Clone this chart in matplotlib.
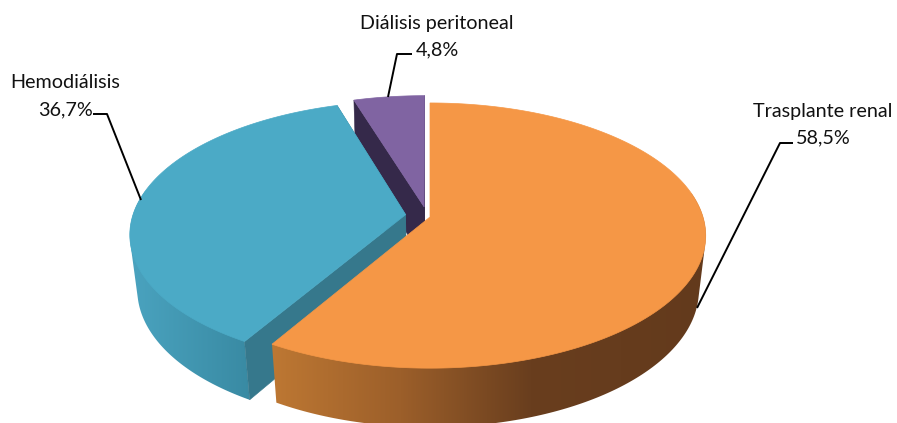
import matplotlib
matplotlib.use("Agg")
import matplotlib.pyplot as plt
import numpy as np
from matplotlib.patches import Polygon

categories = ["Trasplante renal", "Hemodiálisis", "Diálisis peritoneal"]
values = [58.5, 36.7, 4.8]
explode = [0.0, 0.09, 0.095]

top_colors = ["#F59746", "#4BAAC6", "#8064A2"]
wall_colors = [None, "#36788C", "#35294A"]

# side gradient, picked by screen x
side_stops = [
    [(270, "#BE7833"), (400, "#9C5F2A"), (530, "#693E1E"), (710, "#633A1C")],
    [(130, "#4AA3BF"), (250, "#398AA3")],
    None,
]

# small screen shift of a slice, in pixels
nudge = [(0, 0), (0, -1), (-2, 2)]

# label text position (center x, name y, value y) and leader line
label_pos = [(823, 112, 138), (65, 83, 110), (437, 23, 50)]
leaders = [
    [(793, 143), (780, 143), (697, 308)],
    [(93, 114), (107, 114), (141, 200)],
    [(412, 54), (397, 54), (388, 97)],
]

# perspective of the pie, in pixels
X0, Y0 = 430, 217
RX, RY = 273, 130
TILT = 0.14
DROP = 56
SHRINK = 0.025


def project(x, y, z=0.0):
    d = 1 + TILT * y + SHRINK * z
    return X0 + RX * x / d, Y0 + (-RY * y + DROP * z) / d


# the wall outline has to fill the gap at the silhouette, so take the hull
def convex_hull(points):
    points = sorted(set(points))

    def half(seq):
        out = []
        for p in seq:
            while len(out) > 1 and ((out[-1][0] - out[-2][0]) * (p[1] - out[-2][1])
                                    - (out[-1][1] - out[-2][1]) * (p[0] - out[-2][0])) <= 0:
                out.pop()
            out.append(p)
        return out[:-1]

    return half(points) + half(points[::-1])


fig = plt.figure(figsize=(8.97, 4.23), dpi=100)
ax = fig.add_axes([0, 0, 1, 1])

edges = np.cumsum([0] + values) / 100 * 2 * np.pi
starts, ends = edges[:-1], edges[1:]


def draw_slice(i, zorder):
    a0, a1 = starts[i], ends[i]
    mid = (a0 + a1) / 2
    ox, oy = explode[i] * np.sin(mid), explode[i] * np.cos(mid)
    t = np.linspace(a0, a1, 240)
    xs, ys = ox + np.sin(t), oy + np.cos(t)
    dx, dy = nudge[i]

    def pt(x, y, z=0.0):
        px, py = project(x, y, z)
        return px + dx, py + dy

    # outer wall, gradient image clipped to the wall outline
    if side_stops[i] is not None:
        keep = ys < 0.2
        upper = [pt(a, b) for a, b in zip(xs[keep], ys[keep])]
        lower = [pt(a, b, 1) for a, b in zip(xs[keep], ys[keep])]
        px = np.arange(897)
        stops_x = [s[0] for s in side_stops[i]]
        stops_c = np.array([matplotlib.colors.to_rgb(s[1]) for s in side_stops[i]])
        img = np.stack([np.interp(px, stops_x, stops_c[:, k]) for k in range(3)], axis=1)[None, :, :]
        im = ax.imshow(img, extent=(0, 897, 423, 0), aspect="auto", zorder=zorder)
        outline = Polygon(convex_hull(upper + lower), closed=True, transform=ax.transData,
                          fc="none", ec="none")
        ax.add_patch(outline)
        im.set_clip_path(outline)

    # radial wall facing the viewer
    if wall_colors[i] is not None:
        for a in (a0, a1):
            ex, ey = ox + np.sin(a), oy + np.cos(a)
            p = [pt(ox, oy), pt(ex, ey), pt(ex, ey, 1), pt(ox, oy, 1)]
            ax.add_patch(Polygon(p, closed=True, fc=wall_colors[i], ec=wall_colors[i],
                                 lw=0.4, zorder=zorder + 0.1))

    # top face
    pts = [pt(ox, oy)] + [pt(a, b) for a, b in zip(xs, ys)]
    ax.add_patch(Polygon(pts, closed=True, fc=top_colors[i], ec=top_colors[i],
                         lw=0.5, zorder=zorder + 0.2))


# back to front
draw_slice(2, 1)
draw_slice(1, 2)
draw_slice(0, 3)

for i, name in enumerate(categories):
    cx, y1, y2 = label_pos[i]
    ax.text(cx, y1, name, ha="center", va="center", fontsize=14.2, family="Lato", color="#111111")
    ax.text(cx, y2, f"{values[i]:.1f}%".replace(".", ","), ha="center", va="center",
            fontsize=14.2, family="Lato", color="#111111")
    lx, ly = zip(*leaders[i])
    ax.plot(lx, ly, color="black", lw=1.4, zorder=5, solid_capstyle="butt")

ax.set_xlim(0, 897)
ax.set_ylim(423, 0)
ax.axis("off")

fig.savefig("out.png", dpi=100)
